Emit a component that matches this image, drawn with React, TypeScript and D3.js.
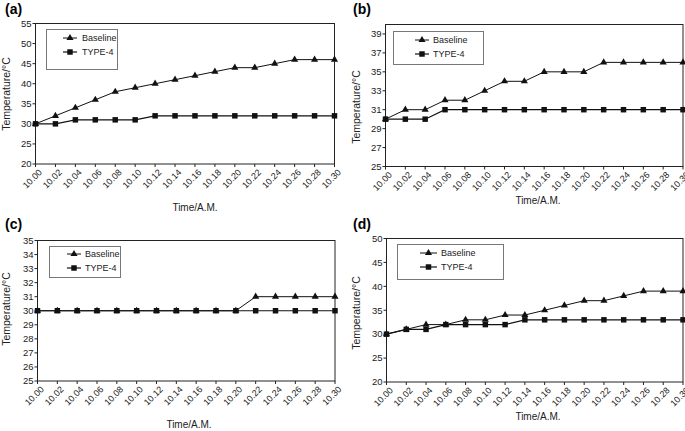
import React from "react";
import * as d3 from "d3";

const times = ["10.00","10.02","10.04","10.06","10.08","10.10","10.12","10.14","10.16","10.18","10.20","10.22","10.24","10.26","10.28","10.30"];

const baselineA = [30,32,34,36,38,39,40,41,42,43,44,44,45,46,46,46];
const type4A = [30,30,31,31,31,31,32,32,32,32,32,32,32,32,32,32];
const baselineB = [30,31,31,32,32,33,34,34,35,35,35,36,36,36,36,36];
const type4B = [30,30,30,31,31,31,31,31,31,31,31,31,31,31,31,31];
const baselineC = [30,30,30,30,30,30,30,30,30,30,30,31,31,31,31,31];
const type4C = [30,30,30,30,30,30,30,30,30,30,30,30,30,30,30,30];
const baselineD = [30,31,32,32,33,33,34,34,35,36,37,37,38,39,39,39];
const type4D = [30,31,31,32,32,32,32,33,33,33,33,33,33,33,33,33];

const ticksA = [20,25,30,35,40,45,50,55];
const ticksB = [25,27,29,31,33,35,37,39];
const ticksC = [25,26,27,28,29,30,31,32,33,34,35];
const ticksD = [20,25,30,35,40,45,50];

const FONT = "'Liberation Sans', Arial, sans-serif";

type PanelProps = {
  label: string;
  base: number[];
  t4: number[];
  domain: [number, number];
  ticks: number[];
  x0: number; x1: number; y0: number; y1: number;
  labelX: number; labelY: number;
  ytX: number; ytY: number;
  xtX: number; xtY: number;
  leg: { x: number; y: number; w: number; h: number; r1: number; r2: number; lx0: number; lx1: number; tx: number };
};

function Panel(p: PanelProps) {
  const x = d3.scalePoint<string>().domain(times).range([p.x0, p.x1]);
  const y = d3.scaleLinear().domain(p.domain).range([p.y1, p.y0]);
  const line = d3.line<number>().x((_, i) => x(times[i]) as number).y(d => y(d));
  const tri = d3.symbol().type(d3.symbolTriangle).size(22)();
  const sq = d3.symbol().type(d3.symbolSquare).size(30)();
  const L = p.leg;
  return (
    <g>
      <text x={p.labelX} y={p.labelY} fontFamily={FONT} fontWeight="bold" fontSize={14}>{p.label}</text>
      <rect x={p.x0} y={p.y0} width={p.x1 - p.x0} height={p.y1 - p.y0} fill="white" stroke="#222" strokeWidth={1} />
      {p.ticks.map(t => (
        <g key={t}>
          <line x1={p.x0 - 3} x2={p.x0} y1={y(t)} y2={y(t)} stroke="#222" />
          <text x={p.x0 - 4} y={y(t)} dy="0.35em" textAnchor="end" fontFamily={FONT} fontSize={9.5} fill="#222">{t}</text>
        </g>
      ))}
      {times.map(t => (
        <g key={t}>
          <line x1={x(t)} x2={x(t)} y1={p.y1} y2={p.y1 + 3} stroke="#222" />
          <text transform={`translate(${(x(t) as number) + 7},${p.y1 + 9}) rotate(-45)`} textAnchor="end" fontFamily={FONT} fontSize={9} fill="#222">{t}</text>
        </g>
      ))}
      <text x={p.xtX} y={p.xtY} textAnchor="middle" fontFamily={FONT} fontSize={10} fill="#222">Time/A.M.</text>
      <text transform={`translate(${p.ytX},${p.ytY}) rotate(-90)`} textAnchor="middle" fontFamily={FONT} fontSize={10.5} fill="#222">Temperature/°C</text>
      <path d={line(p.t4) || ""} fill="none" stroke="#111" strokeWidth={1.2} />
      <path d={line(p.base) || ""} fill="none" stroke="#111" strokeWidth={1} />
      {p.t4.map((v, i) => (
        <path key={"s" + i} d={sq || ""} transform={`translate(${x(times[i])},${y(v)})`} fill="#111" />
      ))}
      {p.base.map((v, i) => (
        <path key={"t" + i} d={tri || ""} transform={`translate(${x(times[i])},${y(v)})`} fill="#111" />
      ))}
      <rect x={L.x} y={L.y} width={L.w} height={L.h} fill="white" stroke="#777" strokeWidth={1} />
      <line x1={L.lx0} x2={L.lx1} y1={L.r1} y2={L.r1} stroke="#111" />
      <path d={tri || ""} transform={`translate(${(L.lx0 + L.lx1) / 2},${L.r1})`} fill="#111" />
      <text x={L.tx} y={L.r1} dy="0.35em" fontFamily={FONT} fontSize={9} fill="#222">Baseline</text>
      <line x1={L.lx0} x2={L.lx1} y1={L.r2} y2={L.r2} stroke="#111" strokeWidth={1.2} />
      <path d={sq || ""} transform={`translate(${(L.lx0 + L.lx1) / 2},${L.r2})`} fill="#111" />
      <text x={L.tx} y={L.r2} dy="0.35em" fontFamily={FONT} fontSize={9} fill="#222">TYPE-4</text>
    </g>
  );
}

export default function App() {
  return (
    <svg width={685} height={431} style={{ position: "absolute", left: 0, top: 0, background: "white" }}>
      <rect width={685} height={431} fill="white" />
      <Panel label="(a)" base={baselineA} t4={type4A} domain={[20, 55]} ticks={ticksA}
        x0={35.5} x1={334.5} y0={23.5} y1={164}
        labelX={5} labelY={14} ytX={10} ytY={94} xtX={195} xtY={211}
        leg={{ x: 46.5, y: 29.5, w: 71, h: 40, r1: 38, r2: 52, lx0: 63, lx1: 77, tx: 82 }} />
      <Panel label="(b)" base={baselineB} t4={type4B} domain={[25, 40]} ticks={ticksB}
        x0={385.5} x1={683} y0={24.5} y1={166.5}
        labelX={353} labelY={14} ytX={360} ytY={107} xtX={538} xtY={204}
        leg={{ x: 393.5, y: 31.5, w: 90, h: 33, r1: 40, r2: 54, lx0: 415, lx1: 429, tx: 433 }} />
      <Panel label="(c)" base={baselineC} t4={type4C} domain={[25, 35]} ticks={ticksC}
        x0={37.5} x1={335} y0={240.5} y1={381}
        labelX={5} labelY={229} ytX={10} ytY={309} xtX={189} xtY={428}
        leg={{ x: 49.5, y: 246.5, w: 71, h: 31, r1: 254, r2: 268, lx0: 67, lx1: 81, tx: 85 }} />
      <Panel label="(d)" base={baselineD} t4={type4D} domain={[20, 50]} ticks={ticksD}
        x0={386.5} x1={683} y0={238.5} y1={382}
        labelX={353} labelY={229} ytX={360} ytY={313} xtX={538} xtY={420}
        leg={{ x: 397.5, y: 244.5, w: 106, h: 35, r1: 253, r2: 267, lx0: 420, lx1: 437, tx: 441 }} />
    </svg>
  );
}
